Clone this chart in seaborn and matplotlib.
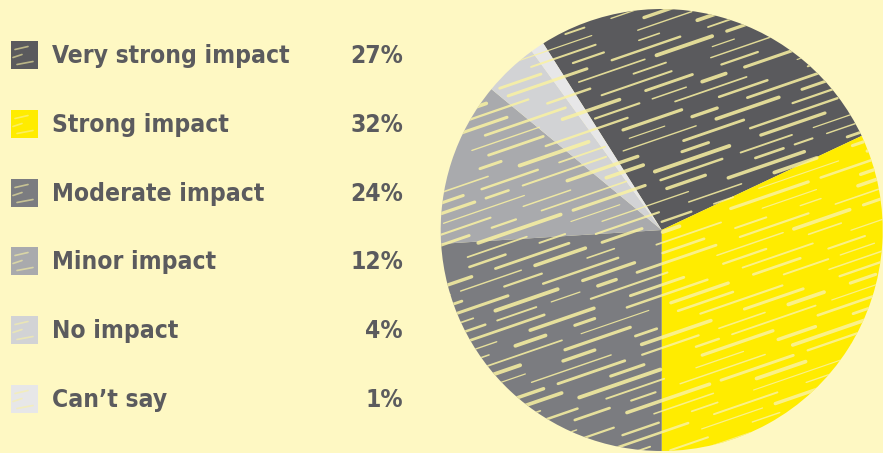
import numpy as np
import matplotlib
matplotlib.use("Agg")
import matplotlib.pyplot as plt
import seaborn as sns
from matplotlib.patches import Rectangle, Circle
from matplotlib import font_manager
from matplotlib.font_manager import FontProperties

# Survey shares by level of impact
categories = ["Very strong impact", "Strong impact", "Moderate impact",
              "Minor impact", "No impact", "Can\u2019t say"]
shares = [27, 32, 24, 12, 4, 1]
share_labels = ["27%", "32%", "24%", "12%", "4%", "1%"]

slice_colors = ["#5a5a5d", "#ffec00", "#7b7c80", "#a9aaad", "#d2d3d5", "#e7e7e8"]
background = "#fef8c3"
streak_color = "#faf2a2"
text_color = "#5b5b5e"

sns.set_theme(style="white")


def weight_num(w):
    if isinstance(w, (int, float)):
        return w
    table = {"bold": 700, "semibold": 600, "demibold": 600, "heavy": 800,
             "black": 900, "extra bold": 800, "normal": 400, "regular": 400}
    return table.get(str(w).lower(), 400)


# Heaviest condensed face available, else a regular bold sans
cands = [f for f in font_manager.fontManager.ttflist
         if ("Condensed" in f.name or "Narrow" in f.name
             or "ondensed" in f.fname or "Narrow" in f.fname)
         and f.style == "normal"]
bold = [f for f in cands if 600 <= weight_num(f.weight) <= 800]
if bold:
    bold.sort(key=lambda f: abs(weight_num(f.weight) - 700))
    label_font = FontProperties(fname=bold[0].fname)
else:
    label_font = FontProperties(family=["Liberation Sans", "DejaVu Sans"], weight="bold")

W, H = 883, 453
fig = plt.figure(figsize=(W / 100, H / 100), dpi=100)
fig.patch.set_facecolor(background)

# Legend panel in pixel coordinates (y grows downward)
leg = fig.add_axes([0, 0, 1, 1])
leg.set_xlim(0, W)
leg.set_ylim(H, 0)
leg.axis("off")

# Size the labels so the longest one spans the legend column
probe = leg.text(52, 55, categories[0], fontproperties=label_font, fontsize=20)
renderer = fig.canvas.get_renderer()
w20 = probe.get_window_extent(renderer).width
probe.remove()
size = min(24, 20 * 238 / w20)

row_y = [55, 124, 193, 261, 330, 399]
for y, name, lab, col in zip(row_y, categories, share_labels, slice_colors):
    leg.add_patch(Rectangle((11, y - 14), 27, 28, facecolor=col, edgecolor="none"))
    # faint chalk marks on each swatch
    for dy, x0, x1 in [(-7, 15, 28), (1, 13, 22), (8, 17, 33)]:
        leg.plot([x0, x1], [y + dy + 1.5, y + dy - 1.5], color=streak_color,
                 lw=1.2, alpha=0.6, solid_capstyle="round")
    leg.text(52, y + 1, name, ha="left", va="center", fontproperties=label_font,
             fontsize=size, color=text_color)
    leg.text(403, y + 1, lab, ha="right", va="center", fontproperties=label_font,
             fontsize=size, color=text_color)

# Pie
cx, cy, r = 661.7, 230, 221
ax = fig.add_axes([(cx - r) / W, (H - cy - r) / H, 2 * r / W, 2 * r / H])
ax.set_facecolor("none")
wedges, _ = ax.pie(shares, colors=slice_colors, startangle=-90 + 3.6 * (shares[0] + shares[1]),
                   counterclock=False, radius=1,
                   wedgeprops=dict(linewidth=0, edgecolor="none"))
ax.set_xlim(-1, 1)
ax.set_ylim(-1, 1)
ax.set_aspect("equal")
ax.axis("off")

# Chalky streak texture across the pie, clipped to the disc
clip = Circle((0, 0), 1, transform=ax.transData)
phi = (np.sqrt(5) - 1) / 2
ang = np.deg2rad(19)
d = np.array([np.cos(ang), np.sin(ang)])
n = np.array([-np.sin(ang), np.cos(ang)])
k = 0
for v in np.arange(-1.45, 1.45, 0.045):
    u = -1.5 + 0.4 * ((k * phi) % 1)
    j = 0
    while u < 1.5:
        s = (k * 7 + j * 3) * phi % 1
        L = 0.08 + 0.34 * s
        g = 0.05 + 0.2 * ((k * 3 + j * 5) * 0.4142 % 1)
        lw = 0.8 + 2.0 * ((k + j * 11) * 0.7071 % 1)
        p0 = u * d + v * n
        p1 = (u + L) * d + v * n
        ln, = ax.plot([p0[0], p1[0]], [p0[1], p1[1]], color=streak_color,
                      lw=lw, solid_capstyle="round", alpha=0.85)
        ln.set_clip_path(clip)
        u += L + g
        j += 1
    k += 1

fig.savefig("out.png", dpi=100, facecolor=background)
